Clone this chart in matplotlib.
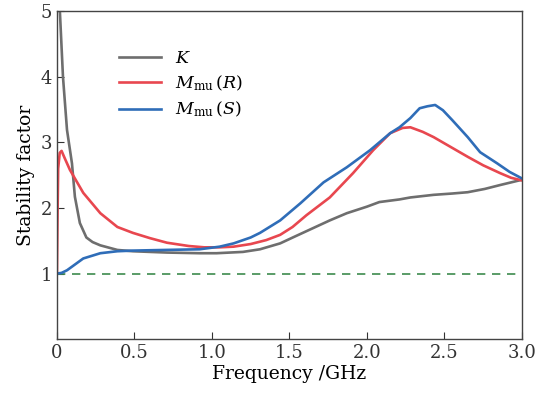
import matplotlib
matplotlib.use('Agg')
import matplotlib.pyplot as plt

# K factor
k_f = [0.005, 0.019, 0.039, 0.065, 0.097, 0.116, 0.148, 0.19, 0.23, 0.28, 0.39, 0.49, 0.71,
       0.92, 1.03, 1.2, 1.31, 1.44, 1.54, 1.65, 1.76, 1.87, 2.0, 2.08, 2.21, 2.28, 2.43,
       2.55, 2.65, 2.76, 2.86, 3.0]
k_v = [5.6, 5.0, 4.0, 3.19, 2.68, 2.17, 1.77, 1.55, 1.48, 1.43, 1.36, 1.34, 1.32,
       1.31, 1.31, 1.33, 1.37, 1.46, 1.57, 1.69, 1.81, 1.92, 2.02, 2.09, 2.13, 2.16, 2.2,
       2.22, 2.24, 2.29, 2.35, 2.43]

# M_mu (R)
r_f = [0.0, 0.004, 0.008, 0.018, 0.03, 0.05, 0.084, 0.17, 0.28, 0.39, 0.49, 0.6, 0.71,
       0.85, 0.95, 1.05, 1.14, 1.25, 1.35, 1.44, 1.52, 1.61, 1.76, 1.91, 2.04, 2.15,
       2.23, 2.28, 2.36, 2.43, 2.54, 2.65, 2.75, 2.86, 2.93, 3.0]
r_v = [1.0, 1.9, 2.6, 2.84, 2.87, 2.76, 2.58, 2.23, 1.92, 1.71, 1.62, 1.54, 1.47,
       1.42, 1.40, 1.40, 1.41, 1.45, 1.51, 1.59, 1.71, 1.89, 2.16, 2.53, 2.88, 3.14,
       3.22, 3.23, 3.16, 3.08, 2.93, 2.78, 2.65, 2.53, 2.46, 2.42]

# M_mu (S)
s_f = [0.0, 0.03, 0.065, 0.17, 0.28, 0.39, 0.49, 0.7, 0.92, 1.05, 1.14, 1.25, 1.31,
       1.44, 1.57, 1.72, 1.87, 2.02, 2.15, 2.21, 2.28, 2.34, 2.39, 2.44, 2.49, 2.55,
       2.65, 2.73, 2.84, 2.92, 3.0]
s_v = [1.0, 1.01, 1.05, 1.23, 1.31, 1.34, 1.35, 1.36, 1.37, 1.41, 1.46, 1.55, 1.62,
       1.81, 2.07, 2.39, 2.62, 2.88, 3.14, 3.23, 3.37, 3.52, 3.55, 3.57, 3.49, 3.34,
       3.08, 2.85, 2.68, 2.55, 2.45]

plt.rcParams['font.family'] = 'DejaVu Serif'
plt.rcParams['mathtext.fontset'] = 'dejavuserif'

fig = plt.figure(figsize=(5.37, 3.99), dpi=100)
ax = fig.add_axes([0.106, 0.150, 0.866, 0.822])

ax.plot([0, 3], [1, 1], '--', color='#3d8b4e', lw=1.2, dashes=(5, 4))
ax.plot(k_f, k_v, color='#6e6e6e', lw=1.9, label='$K$')
ax.plot(r_f, r_v, color='#e8474f', lw=1.9, label=r'$M_{\mathrm{mu}}\,(R)$')
ax.plot(s_f, s_v, color='#2f6db8', lw=1.9, label=r'$M_{\mathrm{mu}}\,(S)$')

ax.set_xlim(0, 3.0)
ax.set_ylim(0, 5)
ax.set_xticks([0, 0.5, 1.0, 1.5, 2.0, 2.5, 3.0])
ax.set_xticklabels(['0', '0.5', '1.0', '1.5', '2.0', '2.5', '3.0'])
ax.set_yticks([1, 2, 3, 4, 5])
ax.tick_params(direction='in', length=5, labelsize=13, colors='#333333')
for s in ax.spines.values():
    s.set_color('#444444')
    s.set_linewidth(1.0)

ax.set_xlabel('Frequency /GHz', fontsize=13.5, labelpad=2)
ax.set_ylabel('Stability factor', fontsize=13.5)
ax.legend(loc='upper left', bbox_to_anchor=(0.1, 0.93), frameon=False, fontsize=12.5,
          handlelength=2.4, labelspacing=0.4)

plt.savefig('out.png', dpi=100)
